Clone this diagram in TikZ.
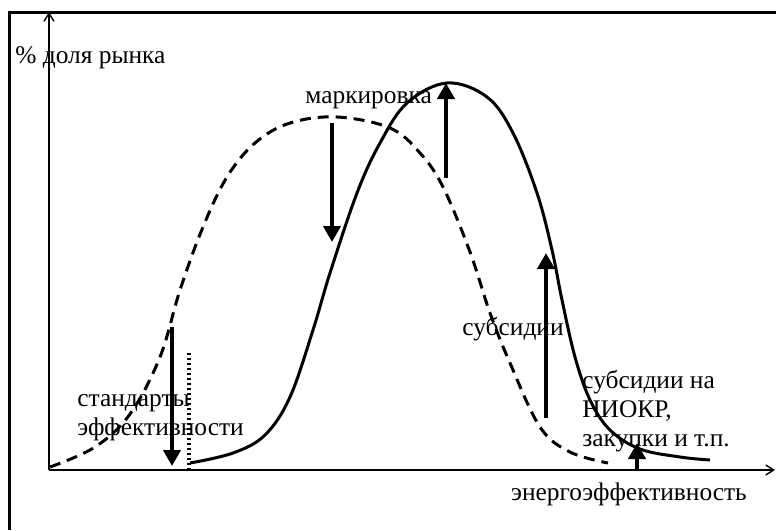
\documentclass[tikz,border=0pt]{standalone}
\usepackage{fontspec}
\setmainfont{Liberation Serif}
\usetikzlibrary{arrows.meta}
\definecolor{ink}{HTML}{000000}
\tikzset{
  frameline/.style={draw=ink,line width=1.5pt},
  axisline/.style={draw=ink,line width=0.7pt,-{Straight Barb[length=4pt,width=5pt]}},
  newcurve/.style={draw=ink,line width=1.5pt},
  oldcurve/.style={draw=ink,line width=1.5pt,dash pattern=on 5.5pt off 3.5pt},
  pusharr/.style={draw=ink,-{Triangle[length=8pt,width=8.5pt]},line width=2.2pt},
  dotline/.style={draw=ink,line width=1.6pt,dash pattern=on 1.2pt off 1.3pt},
  lbl/.style={font=\fontsize{12.7}{14.5}\selectfont,inner sep=0pt,align=left}
}
\begin{document}
\begin{tikzpicture}[x=0.5pt,y=-0.5pt]
  \useasboundingbox (0,0) rectangle (776,530);
  \draw[frameline] (776,12) -- (9,12) -- (9,530);
  \coordinate (origin) at (49,470);
  \coordinate (ytop) at (49,12);
  \coordinate (xend) at (775,470);
  \draw[axisline] (origin) -- (ytop);
  \draw[axisline] (origin) -- (xend);
  \node[lbl,anchor=base west] (share) at (15,63) {\% доля рынка};
  \node[lbl,anchor=base] (effic) at (629,500) {энергоэффективность};
  % market share curves
  \draw[oldcurve] plot[smooth,tension=0.6] coordinates {(50,467) (95,447) (130,414)
    (160,357) (180,290) (203,227) (227,177) (255,143) (290,123) (337,117) (390,128)
    (420,153) (443,187) (470,252) (490,313) (510,363) (540,427) (570,452) (608,463)};
  \draw[newcurve] plot[smooth,tension=0.6] coordinates {(190,463) (233,453) (265,435)
    (290,397) (313,330) (330,273) (357,193) (380,143) (407,103) (447,83) (487,97)
    (513,133) (537,193) (552,250) (562,300) (575,357) (590,400) (610,430) (640,449)
    (680,457) (710,460)};
  % policy arrows
  \coordinate (stdtop) at (172,327);
  \coordinate (stdbot) at (172,466);
  \coordinate (cuttop) at (189,353);
  \coordinate (cutbot) at (189,470);
  \coordinate (marktop) at (332,123);
  \coordinate (markbot) at (332,242);
  \coordinate (peakbot) at (446,178);
  \coordinate (peaktop) at (446,83);
  \coordinate (subbot) at (546,418);
  \coordinate (subtop) at (546,253);
  \coordinate (rdbot) at (637,470);
  \coordinate (rdtop) at (637,443);
  \draw[pusharr] (stdtop) -- (stdbot);
  \draw[dotline] (cuttop) -- (cutbot);
  \draw[pusharr] (marktop) -- (markbot);
  \draw[pusharr] (peakbot) -- (peaktop);
  \draw[pusharr] (subbot) -- (subtop);
  \draw[pusharr] (rdbot) -- (rdtop);
  \node[lbl,anchor=base west] (label) at (305,103) {маркировка};
  \node[lbl,anchor=base west] (subs) at (462,335) {субсидии};
  \node[lbl,anchor=base west] (stds) at (77,435) {стандарты\\эффективности};
  \node[lbl,anchor=base west] (rnd) at (582,446) {субсидии на\\НИОКР,\\закупки и т.п.};
\end{tikzpicture}
\end{document}
